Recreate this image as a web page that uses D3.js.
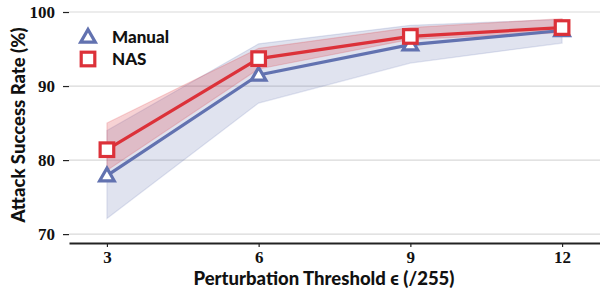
<!DOCTYPE html>
<html>
<head>
<meta charset="utf-8">
<script src="https://cdn.jsdelivr.net/npm/d3@7"></script>
<style>
body { margin:0; background:#fff; }
.tick text { font-family:"Liberation Serif", serif; font-weight:bold; font-size:17px; fill:#111; }
.lbl { font-family:Lato, "Open Sans", sans-serif; font-weight:900; fill:#111; }
</style>
</head>
<body>
<svg id="chart" width="600" height="291" viewBox="0 0 600 291"></svg>
<script>
// values
const eps = [3, 6, 9, 12]
const manual = [77.9, 91.5, 95.6, 97.5]
const manualLow = [72.1, 87.7, 93.1, 95.8]
const manualHigh = [84.0, 95.7, 98.2, 99.0]
const nas = [81.4, 93.7, 96.7, 97.9]
const nasLow = [78.6, 92.3, 96.3, 97.2]
const nasHigh = [85.0, 95.1, 97.9, 99.1]
const yTicks = [70, 80, 90, 100]

const svg = d3.select("#chart")
const plotLeft = 69, plotRight = 600, plotTop = 4.6, plotBottom = 243

const x = d3.scaleLinear().domain([2.25, 12.75]).range([plotLeft, plotRight])
const y = d3.scaleLinear().domain([68.8, 101]).range([plotBottom, plotTop])

// grid
svg.append("g")
    .selectAll("line")
    .data(yTicks)
    .enter()
    .append("line")
    .attr("x1", plotLeft).attr("x2", plotRight)
    .attr("y1", d => y(d)).attr("y2", d => y(d))
    .attr("stroke", "#d9d9d9").attr("stroke-width", 1.2)

const series = [
    {name: "Manual", mid: manual, lo: manualLow, hi: manualHigh, color: "#6272b0", fill: "#6272b0", shape: "tri"},
    {name: "NAS", mid: nas, lo: nasLow, hi: nasHigh, color: "#dc3139", fill: "#dc3139", shape: "sq"}
]

const area = d3.area()
    .x((d, i) => x(eps[i]))

series.forEach(s => {
    const rows = eps.map((e, i) => ({lo: s.lo[i], hi: s.hi[i]}))
    svg.append("path")
        .datum(rows)
        .attr("d", area.y0(d => y(d.lo)).y1(d => y(d.hi)))
        .attr("fill", s.fill)
        .attr("fill-opacity", s.shape == "tri" ? 0.2 : 0.22)
        .attr("stroke", s.fill)
        .attr("stroke-opacity", 0.18)
        .attr("stroke-width", 1.2)
})

const line = d3.line().x((d, i) => x(eps[i])).y(d => y(d))

series.forEach(s => {
    svg.append("path")
        .datum(s.mid)
        .attr("d", line)
        .attr("fill", "none")
        .attr("stroke", s.color)
        .attr("stroke-width", 3.2)
})

function marker(g, shape, color) {
    if (shape == "tri") {
        g.append("path")
            .attr("d", "M0,-7.5 L7.3,5.2 L-7.3,5.2 Z")
            .attr("fill", "#fff").attr("stroke", color).attr("stroke-width", 3.2)
            .attr("stroke-linejoin", "miter")
    } else {
        g.append("rect")
            .attr("x", -6.8).attr("y", -6.8).attr("width", 13.6).attr("height", 13.6)
            .attr("fill", "#fff").attr("stroke", color).attr("stroke-width", 3.2)
    }
}

series.forEach(s => {
    s.mid.forEach((v, i) => {
        const g = svg.append("g").attr("transform", `translate(${x(eps[i])},${y(v)})`)
        marker(g, s.shape, s.color)
    })
})

// axes
const yAxis = svg.append("g")
    .attr("transform", `translate(${plotLeft},0)`)
    .call(d3.axisLeft(y).tickValues(yTicks).tickSize(6).tickPadding(8))
yAxis.select(".domain").remove()
yAxis.selectAll(".tick line").attr("stroke", "#222").attr("stroke-width", 1.2)

const xAxis = svg.append("g")
    .attr("transform", `translate(0,${plotBottom})`)
    .call(d3.axisBottom(x).tickValues(eps).tickSize(4).tickPadding(4).tickSizeOuter(0))
xAxis.select(".domain").attr("stroke", "#222").attr("stroke-width", 1.8)
xAxis.selectAll(".tick line").attr("stroke", "#222").attr("stroke-width", 1.2)

// titles
svg.append("text")
    .attr("class", "lbl")
    .attr("x", 324).attr("y", 285)
    .attr("text-anchor", "middle")
    .attr("font-size", 18.5)
    .text("Perturbation Threshold \u03f5 (/255)")

svg.append("text")
    .attr("class", "lbl")
    .attr("transform", "translate(25,125) rotate(-90)")
    .attr("text-anchor", "middle")
    .attr("font-size", 18.5)
    .text("Attack Success Rate (%)")

// legend
series.forEach((s, i) => {
    const g = svg.append("g").attr("transform", `translate(88,${37 + i * 22})`)
    marker(g, s.shape, s.color)
    svg.append("text")
        .attr("class", "lbl")
        .attr("x", 112).attr("y", 43 + i * 22)
        .attr("font-size", 17)
        .text(s.name)
})
</script>
</body>
</html>
